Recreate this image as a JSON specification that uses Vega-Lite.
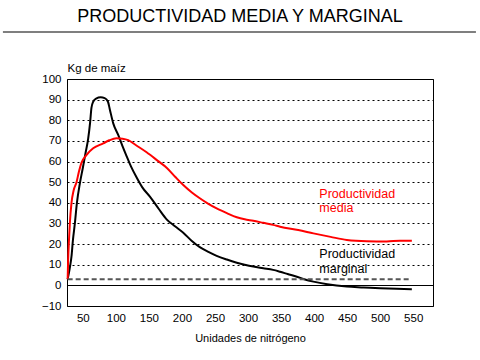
{
  "$schema": "https://vega.github.io/schema/vega-lite/v6.json",
  "width": 366,
  "height": 227,
  "autosize": {"type": "none"},
  "padding": {"left": 67, "top": 79, "right": 47, "bottom": 54},
  "background": "white",
  "config": {
    "font": "Liberation Sans",
    "view": {"stroke": "black", "strokeWidth": 1}
  },
  "title": {
    "text": "PRODUCTIVIDAD MEDIA Y MARGINAL",
    "fontSize": 18,
    "fontWeight": "normal",
    "color": "black",
    "anchor": "middle",
    "dx": -10,
    "offset": 5
  },
  "datasets": {
    "curves": [
      {"x": 27, "y": 3, "series": "marginal"},
      {"x": 30, "y": 8, "series": "marginal"},
      {"x": 32.8, "y": 14, "series": "marginal"},
      {"x": 35, "y": 22, "series": "marginal"},
      {"x": 37.9, "y": 30, "series": "marginal"},
      {"x": 41, "y": 40, "series": "marginal"},
      {"x": 45.5, "y": 49.5, "series": "marginal"},
      {"x": 50, "y": 57, "series": "marginal"},
      {"x": 54, "y": 64, "series": "marginal"},
      {"x": 58, "y": 71, "series": "marginal"},
      {"x": 61, "y": 79, "series": "marginal"},
      {"x": 63, "y": 86, "series": "marginal"},
      {"x": 65.6, "y": 89, "series": "marginal"},
      {"x": 70, "y": 90.5, "series": "marginal"},
      {"x": 77, "y": 91.1, "series": "marginal"},
      {"x": 83, "y": 90.7, "series": "marginal"},
      {"x": 88, "y": 89, "series": "marginal"},
      {"x": 91, "y": 85, "series": "marginal"},
      {"x": 96, "y": 78.5, "series": "marginal"},
      {"x": 103.5, "y": 72.9, "series": "marginal"},
      {"x": 110, "y": 67.5, "series": "marginal"},
      {"x": 116, "y": 62.8, "series": "marginal"},
      {"x": 123, "y": 57.5, "series": "marginal"},
      {"x": 131, "y": 52.5, "series": "marginal"},
      {"x": 140, "y": 47.5, "series": "marginal"},
      {"x": 151.5, "y": 43, "series": "marginal"},
      {"x": 165, "y": 37, "series": "marginal"},
      {"x": 176.8, "y": 32, "series": "marginal"},
      {"x": 190, "y": 28.5, "series": "marginal"},
      {"x": 202, "y": 25.5, "series": "marginal"},
      {"x": 215, "y": 21.5, "series": "marginal"},
      {"x": 227, "y": 18.5, "series": "marginal"},
      {"x": 240, "y": 16.2, "series": "marginal"},
      {"x": 252.5, "y": 14.3, "series": "marginal"},
      {"x": 268, "y": 12.5, "series": "marginal"},
      {"x": 283, "y": 11, "series": "marginal"},
      {"x": 295, "y": 10, "series": "marginal"},
      {"x": 308, "y": 9.1, "series": "marginal"},
      {"x": 323, "y": 8.3, "series": "marginal"},
      {"x": 338, "y": 7.5, "series": "marginal"},
      {"x": 348.5, "y": 6.6, "series": "marginal"},
      {"x": 360, "y": 5.5, "series": "marginal"},
      {"x": 374, "y": 4.2, "series": "marginal"},
      {"x": 385, "y": 3, "series": "marginal"},
      {"x": 399, "y": 1.8, "series": "marginal"},
      {"x": 420, "y": 0.5, "series": "marginal"},
      {"x": 449.5, "y": -0.6, "series": "marginal"},
      {"x": 475, "y": -1.0, "series": "marginal"},
      {"x": 500, "y": -1.4, "series": "marginal"},
      {"x": 525, "y": -1.7, "series": "marginal"},
      {"x": 548, "y": -1.9, "series": "marginal"},
      {"x": 27, "y": 3, "series": "media"},
      {"x": 27.7, "y": 12, "series": "media"},
      {"x": 29, "y": 22, "series": "media"},
      {"x": 30.3, "y": 30, "series": "media"},
      {"x": 32.8, "y": 40, "series": "media"},
      {"x": 36, "y": 46, "series": "media"},
      {"x": 40.4, "y": 50, "series": "media"},
      {"x": 44, "y": 55, "series": "media"},
      {"x": 48, "y": 59.5, "series": "media"},
      {"x": 55, "y": 63, "series": "media"},
      {"x": 65.6, "y": 66.4, "series": "media"},
      {"x": 80.8, "y": 68.8, "series": "media"},
      {"x": 90, "y": 70.3, "series": "media"},
      {"x": 101, "y": 71.3, "series": "media"},
      {"x": 110, "y": 71.1, "series": "media"},
      {"x": 118.6, "y": 70.4, "series": "media"},
      {"x": 130, "y": 68, "series": "media"},
      {"x": 146.5, "y": 64.5, "series": "media"},
      {"x": 164, "y": 60.2, "series": "media"},
      {"x": 176.8, "y": 57, "series": "media"},
      {"x": 190, "y": 52.5, "series": "media"},
      {"x": 202, "y": 48.6, "series": "media"},
      {"x": 215, "y": 45, "series": "media"},
      {"x": 227, "y": 42.2, "series": "media"},
      {"x": 240, "y": 39.5, "series": "media"},
      {"x": 252.5, "y": 37.3, "series": "media"},
      {"x": 268, "y": 35, "series": "media"},
      {"x": 283, "y": 33, "series": "media"},
      {"x": 295, "y": 32, "series": "media"},
      {"x": 308, "y": 31.3, "series": "media"},
      {"x": 323, "y": 30.3, "series": "media"},
      {"x": 338, "y": 29.3, "series": "media"},
      {"x": 348.5, "y": 28.4, "series": "media"},
      {"x": 376, "y": 26.8, "series": "media"},
      {"x": 399, "y": 25.2, "series": "media"},
      {"x": 425, "y": 23.5, "series": "media"},
      {"x": 449.5, "y": 22, "series": "media"},
      {"x": 480, "y": 21.4, "series": "media"},
      {"x": 510, "y": 21.3, "series": "media"},
      {"x": 530, "y": 21.6, "series": "media"},
      {"x": 548, "y": 21.6, "series": "media"}
    ],
    "labels": [
      {"x": 408, "y": 44.3, "label": "Productividad", "series": "media"},
      {"x": 408, "y": 37.5, "label": "media", "series": "media"},
      {"x": 408, "y": 15.2, "label": "Productividad", "series": "marginal"},
      {"x": 408, "y": 7.8, "label": "marginal", "series": "marginal"}
    ],
    "dashed": [{"x": 27, "x2": 545, "y": 3}],
    "titleline": [{"x": -71, "x2": 645, "y": 122.8}]
  },
  "layer": [
    {
      "data": {"name": "titleline"},
      "mark": {"type": "rule", "color": "#555555", "strokeWidth": 1.5},
      "encoding": {
        "x": {"field": "x", "type": "quantitative"},
        "x2": {"field": "x2"},
        "y": {"field": "y", "type": "quantitative"}
      }
    },
    {
      "data": {"name": "curves"},
      "mark": {"type": "line", "strokeWidth": 2, "interpolate": "monotone"},
      "encoding": {
        "x": {
          "field": "x",
          "type": "quantitative",
          "scale": {"domain": [26, 580], "nice": false, "zero": false},
          "axis": {
            "values": [50, 100, 150, 200, 250, 300, 350, 400, 450, 500, 550],
            "tickCount": 30,
            "labelOverlap": false,
            "grid": false,
            "ticks": false,
            "domain": false,
            "labelFontSize": 11.5,
            "labelColor": "black",
            "labelPadding": 6,
            "title": "Unidades de nitrógeno",
            "titleFontSize": 11,
            "titleFontWeight": "normal",
            "titleColor": "black",
            "titlePadding": 9
          }
        },
        "y": {
          "field": "y",
          "type": "quantitative",
          "scale": {"domain": [-10, 100], "nice": false, "zero": false},
          "axis": {
            "values": [-10, 0, 10, 20, 30, 40, 50, 60, 70, 80, 90, 100],
            "tickCount": 30,
            "labelOverlap": false,
            "grid": true,
            "gridColor": "black",
            "gridWidth": 1,
            "gridDash": {"condition": {"test": "datum.value === 0 || datum.value === -10 || datum.value === 100", "value": []}, "value": [2, 3]},
            "ticks": false,
            "domain": false,
            "labelFontSize": 11.5,
            "labelColor": "black",
            "labelPadding": 6,
            "title": "Kg de maíz",
            "titleAngle": 0,
            "titleAlign": "left",
            "titleBaseline": "middle",
            "titleX": 0,
            "titleY": -11,
            "titleFontSize": 11.5,
            "titleFontWeight": "normal",
            "titleColor": "black"
          }
        },
        "color": {
          "field": "series",
          "type": "nominal",
          "scale": {"domain": ["media", "marginal"], "range": ["#ff0000", "#000000"]},
          "legend": null
        }
      }
    },
    {
      "mark": {"type": "rule", "color": "black", "strokeWidth": 1},
      "encoding": {"y": {"datum": 0, "type": "quantitative"}}
    },
    {
      "data": {"name": "dashed"},
      "mark": {"type": "rule", "color": "#555555", "strokeWidth": 2, "strokeDash": [5, 3]},
      "encoding": {
        "x": {"field": "x", "type": "quantitative"},
        "x2": {"field": "x2"},
        "y": {"field": "y", "type": "quantitative"}
      }
    },
    {
      "data": {"name": "labels"},
      "mark": {"type": "text", "align": "left", "baseline": "middle", "fontSize": 12.5},
      "encoding": {
        "x": {"field": "x", "type": "quantitative"},
        "y": {"field": "y", "type": "quantitative"},
        "text": {"field": "label"},
        "color": {
          "field": "series",
          "type": "nominal",
          "scale": {"domain": ["media", "marginal"], "range": ["#ff0000", "#000000"]},
          "legend": null
        }
      }
    }
  ]
}
